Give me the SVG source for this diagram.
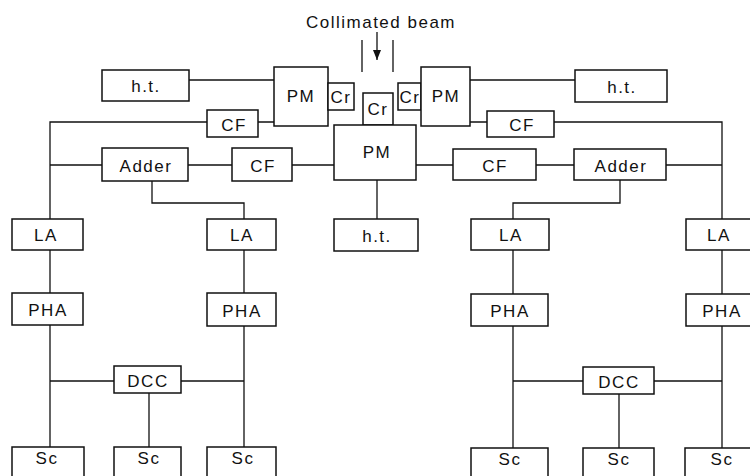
<svg xmlns="http://www.w3.org/2000/svg" width="750" height="476" viewBox="0 0 750 476">
<defs>
<style>
.b{fill:#fff;stroke:#111;stroke-width:1.5}
.w{stroke:#111;stroke-width:1.3;fill:none}
text{font-family:"Liberation Sans",Arial,sans-serif;font-size:17px;letter-spacing:1.5px;fill:#111;text-anchor:middle}
</style>
<marker id="ah" viewBox="0 0 10 8" refX="10" refY="4" markerWidth="10" markerHeight="8" markerUnits="userSpaceOnUse" orient="auto">
<path d="M0,0 L10,4 L0,8 Z" fill="#111"/>
</marker>
</defs>
<rect width="750" height="476" fill="#fff"/>
<g id="connectors">
<path class="w" d="M189,80 H274"/>
<path class="w" d="M50,219 V122 H207 M258,122 H274"/>
<path class="w" d="M50,165 H102 M188,165 H232 M292,165 H334"/>
<path class="w" d="M152,181 V203 H244 V219"/>
<path class="w" d="M50,250 V293 M50,325 V447 M50,381 H114 M181,381 H244 M149,393 V447"/>
<path class="w" d="M244,250 V293 M244,326 V447"/>
<path class="w" d="M377,180 V219"/>
<path class="w" d="M416,165 H453 M536,165 H574 M666,165 H722"/>
<path class="w" d="M470,80 H575 M470,122 H487 M554,122 H722 V219"/>
<path class="w" d="M620,180 V203 H513 V219"/>
<path class="w" d="M513,250 V294 M513,326 V448 M513,381 H583 M654,381 H722 M619,394 V448"/>
<path class="w" d="M722,250 V294 M722,326 V448"/>
<path class="w" d="M362,40 V72 M393,40 V72"/>
<path class="w" d="M377,32 V60" marker-end="url(#ah)"/>
</g>
<text id="beam-label" x="381" y="28">Collimated beam</text>
<g id="ht-left"><rect class="b" x="102" y="70" width="87" height="31"/><text x="146" y="92">h.t.</text></g>
<g id="pm-left"><rect class="b" x="274" y="67" width="54" height="59"/><text x="301" y="102">PM</text></g>
<g id="cr-left"><rect class="b" x="328" y="83" width="26" height="27"/><text x="341" y="103">Cr</text></g>
<g id="cr-center"><rect class="b" x="363" y="93" width="30" height="32"/><text x="378" y="115">Cr</text></g>
<g id="cr-right"><rect class="b" x="398" y="83" width="23" height="27"/><text x="410" y="103">Cr</text></g>
<g id="pm-right"><rect class="b" x="421" y="67" width="49" height="59"/><text x="446" y="102">PM</text></g>
<g id="ht-right"><rect class="b" x="575" y="70" width="92" height="32"/><text x="622" y="93">h.t.</text></g>
<g id="cf-left-top"><rect class="b" x="207" y="110" width="51" height="27"/><text x="234" y="131">CF</text></g>
<g id="cf-right-top"><rect class="b" x="487" y="111" width="67" height="26"/><text x="522" y="131">CF</text></g>
<g id="pm-center"><rect class="b" x="334" y="125" width="82" height="55"/><text x="377" y="158">PM</text></g>
<g id="adder-left"><rect class="b" x="102" y="148" width="86" height="33"/><text x="146" y="172">Adder</text></g>
<g id="cf-left-mid"><rect class="b" x="232" y="148" width="60" height="33"/><text x="263" y="172">CF</text></g>
<g id="cf-right-mid"><rect class="b" x="453" y="149" width="83" height="31"/><text x="495" y="172">CF</text></g>
<g id="adder-right"><rect class="b" x="574" y="149" width="92" height="31"/><text x="621" y="172">Adder</text></g>
<g id="ht-center"><rect class="b" x="334" y="219" width="84" height="32"/><text x="377" y="242">h.t.</text></g>
<g id="la-1"><rect class="b" x="12" y="219" width="71" height="31"/><text x="46" y="241">LA</text></g>
<g id="la-2"><rect class="b" x="207" y="219" width="69" height="31"/><text x="242" y="241">LA</text></g>
<g id="la-3"><rect class="b" x="471" y="219" width="78" height="31"/><text x="511" y="241">LA</text></g>
<g id="la-4"><rect class="b" x="686" y="219" width="80" height="31"/><text x="719" y="241">LA</text></g>
<g id="pha-1"><rect class="b" x="12" y="293" width="71" height="32"/><text x="48" y="316">PHA</text></g>
<g id="pha-2"><rect class="b" x="207" y="293" width="69" height="33"/><text x="242" y="317">PHA</text></g>
<g id="pha-3"><rect class="b" x="471" y="294" width="77" height="32"/><text x="510" y="317">PHA</text></g>
<g id="pha-4"><rect class="b" x="686" y="294" width="80" height="32"/><text x="722" y="317">PHA</text></g>
<g id="dcc-1"><rect class="b" x="114" y="366" width="67" height="27"/><text x="148" y="387">DCC</text></g>
<g id="dcc-2"><rect class="b" x="583" y="367" width="71" height="27"/><text x="619" y="388">DCC</text></g>
<g id="sc-1"><rect class="b" x="12" y="447" width="72" height="40"/><text x="47" y="464">Sc</text></g>
<g id="sc-2"><rect class="b" x="114" y="447" width="67" height="40"/><text x="149" y="464">Sc</text></g>
<g id="sc-3"><rect class="b" x="207" y="447" width="69" height="40"/><text x="243" y="464">Sc</text></g>
<g id="sc-4"><rect class="b" x="471" y="448" width="77" height="40"/><text x="510" y="465">Sc</text></g>
<g id="sc-5"><rect class="b" x="583" y="448" width="71" height="40"/><text x="619" y="465">Sc</text></g>
<g id="sc-6"><rect class="b" x="685" y="448" width="80" height="40"/><text x="722" y="465">Sc</text></g>
</svg>
